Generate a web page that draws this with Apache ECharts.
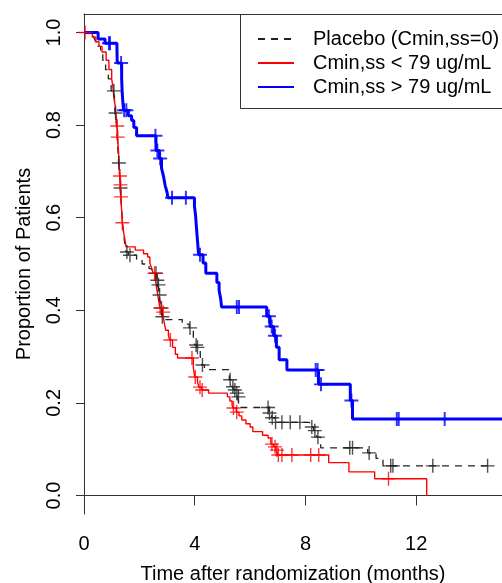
<!DOCTYPE html>
<html>
<head>
<meta charset="utf-8">
<script src="https://cdn.jsdelivr.net/npm/echarts@6/dist/echarts.min.js"></script>
<style>
  html, body { margin: 0; padding: 0; background: #fff; }
  #chart { width: 502px; height: 583px; }
</style>
</head>
<body>
<div id="chart"></div>
<script>
// Kaplan-Meier steps [time (months), proportion]
var placeboSteps = [
    [0, 1], [0.35, 0.99], [0.42, 0.98], [0.5, 0.97], [0.6, 0.955], [0.68, 0.94], [0.78, 0.92],
    [0.88, 0.9], [0.98, 0.874], [1.1, 0.85], [1.12, 0.826], [1.17, 0.8], [1.2, 0.77], [1.23, 0.74],
    [1.25, 0.718], [1.29, 0.69], [1.31, 0.664], [1.35, 0.63], [1.38, 0.6], [1.42, 0.57], [1.47, 0.545],
    [1.52, 0.526], [1.6, 0.519], [1.9, 0.51], [2.1, 0.5], [2.35, 0.49], [2.45, 0.48], [2.63, 0.465],
    [2.68, 0.455], [2.72, 0.433], [2.78, 0.405], [2.82, 0.386], [2.9, 0.38], [3.55, 0.37], [3.8, 0.362],
    [3.95, 0.34], [4.0, 0.325], [4.08, 0.32], [4.2, 0.3], [4.25, 0.282], [4.35, 0.272], [5.25, 0.25],
    [5.35, 0.235], [5.42, 0.228], [5.5, 0.221], [5.55, 0.213], [5.62, 0.19], [6.68, 0.178], [6.78, 0.168],
    [6.88, 0.158], [8.15, 0.148], [8.3, 0.14], [8.4, 0.126], [8.55, 0.103], [10.25, 0.092], [10.55, 0.08],
    [10.8, 0.064], [14.58, 0.064]
];
var placeboCensored = [1.08, 1.14, 1.26, 1.32, 1.55, 1.66, 2.6, 2.65, 2.69, 2.73, 2.8, 2.83, 3.83, 4.05,
    4.1, 4.28, 5.28, 5.38, 5.45, 5.52, 5.58, 6.65, 6.7, 6.8, 6.92, 7.15, 7.45, 7.8, 8.23, 8.34, 8.45,
    9.6, 9.7, 10.3, 11.08, 11.16, 12.6, 14.58];

var lowSteps = [
    [0, 1], [0.3, 0.99], [0.43, 0.98], [0.54, 0.97], [0.65, 0.958], [0.8, 0.94], [0.9, 0.92], [1.0, 0.9],
    [1.05, 0.88], [1.08, 0.86], [1.12, 0.845], [1.15, 0.826], [1.19, 0.798], [1.21, 0.774], [1.23, 0.757],
    [1.25, 0.74], [1.27, 0.71], [1.29, 0.69], [1.31, 0.671], [1.33, 0.645], [1.35, 0.625], [1.37, 0.605],
    [1.38, 0.589], [1.41, 0.578], [1.44, 0.565], [1.48, 0.552], [1.52, 0.537], [1.85, 0.53], [2.15, 0.522],
    [2.3, 0.515], [2.38, 0.502], [2.45, 0.49], [2.5, 0.48], [2.58, 0.465], [2.62, 0.45], [2.66, 0.435],
    [2.7, 0.42], [2.74, 0.405], [2.83, 0.396], [2.88, 0.38], [2.95, 0.357], [3.05, 0.345], [3.1, 0.336],
    [3.2, 0.32], [3.3, 0.305], [3.38, 0.297], [3.95, 0.275], [4.0, 0.256], [4.1, 0.245], [4.15, 0.234],
    [4.25, 0.228], [4.5, 0.221], [5.18, 0.213], [5.27, 0.204], [5.35, 0.195], [5.38, 0.189], [5.5, 0.18],
    [5.6, 0.172], [5.7, 0.163], [5.85, 0.155], [6.0, 0.148], [6.1, 0.138], [6.45, 0.13], [6.65, 0.124],
    [6.75, 0.111], [6.85, 0.105], [6.93, 0.098], [7.0, 0.0875], [8.84, 0.071], [9.57, 0.051], [10.5, 0.036],
    [12.38, 0]
];
var lowCensored = [0.04, 1.2, 1.22, 1.3, 1.32, 1.34, 1.385, 2.55, 2.75, 2.86, 3.12, 3.9, 4.02, 4.19, 4.27,
    5.4, 5.52, 6.79, 6.9, 6.97, 7.02, 7.15, 7.51, 8.19, 8.48, 11.0];

var highSteps = [
    [0, 1], [0.51, 0.986], [0.76, 0.977], [1.19, 0.968], [1.2, 0.934], [1.36, 0.9], [1.38, 0.87],
    [1.41, 0.845], [1.43, 0.832], [1.6, 0.82], [1.72, 0.81], [1.8, 0.795], [1.9, 0.777], [2.6, 0.745],
    [2.72, 0.728], [2.8, 0.707], [2.87, 0.69], [2.93, 0.67], [3.0, 0.655], [3.03, 0.643], [3.99, 0.625],
    [4.03, 0.605], [4.06, 0.58], [4.1, 0.55], [4.14, 0.52], [4.3, 0.502], [4.4, 0.48], [4.8, 0.46],
    [4.88, 0.443], [4.94, 0.424], [4.97, 0.407], [6.6, 0.387], [6.72, 0.365], [6.85, 0.345], [6.95, 0.32],
    [7.05, 0.293], [7.33, 0.271], [8.47, 0.24], [9.62, 0.205], [9.7, 0.165], [15.5, 0.165]
];
var highCensored = [0.9, 0.94, 1.34, 1.45, 1.53, 2.58, 2.65, 2.75, 3.18, 3.68, 4.19, 5.52, 5.6, 6.68,
    6.78, 6.9, 8.37, 8.44, 8.56, 9.66, 11.3, 11.37, 13.03];

var seriesNames = ['Placebo (Cmin,ss=0)', 'Cmin,ss < 79 ug/mL', 'Cmin,ss > 79 ug/mL'];
var yTicks = [0, 0.2, 0.4, 0.6, 0.8, 1.0];

// level of the curve at a censoring time
function survAt(steps, t) {
    var s = steps[0][1];
    for (var i = 0; i < steps.length; i++) {
        if (steps[i][0] <= t) s = steps[i][1];
    }
    return s;
}
function marks(steps, times) {
    return times.map(function (t) { return [t, survAt(steps, t)]; });
}

var plusThin = 'path://M45,0 L55,0 L55,45 L100,45 L100,55 L55,55 L55,100 L45,100 L45,55 L0,55 L0,45 L45,45 Z';
var plusWide = 'path://M43,0 L57,0 L57,43 L100,43 L100,57 L57,57 L57,100 L43,100 L43,57 L0,57 L0,43 L43,43 Z';

var chart = echarts.init(document.getElementById('chart'));
var font = 'Liberation Sans, Arial, sans-serif';

chart.setOption({
    animation: false,
    textStyle: { fontFamily: font },
    grid: { left: 84, right: 0, top: 14, bottom: 69, outerBoundsMode: 'none', containLabel: false },
    legend: {
        data: seriesNames,
        orient: 'vertical',
        left: 257,
        top: 28,
        padding: 0,
        itemWidth: 36,
        itemHeight: 10,
        itemGap: 2,
        selectedMode: false,
        itemStyle: { opacity: 0 },
        textStyle: { fontSize: 20, color: '#000', lineHeight: 22, padding: [0, 0, 0, 14] }
    },
    graphic: [{
        type: 'rect',
        shape: { x: 240.5, y: 14.5, width: 300, height: 94 },
        style: { fill: 'none', stroke: '#333', lineWidth: 1 },
        z: 10
    }],
    xAxis: [{
        type: 'value',
        min: 0,
        max: 15.1,
        interval: 4,
        position: 'bottom',
        axisLine: { show: true, lineStyle: { color: '#333', width: 1 } },
        axisTick: { show: true, length: 10, lineStyle: { color: '#333' } },
        axisLabel: { fontSize: 20, color: '#000', margin: 20, showMaxLabel: false },
        splitLine: { show: false },
        name: 'Time after randomization (months)',
        nameLocation: 'middle',
        nameGap: 50,
        nameTextStyle: { fontSize: 20, color: '#000' }
    }, {
        type: 'value',
        min: 0,
        max: 15.1,
        position: 'top',
        axisLine: { show: true, onZero: false, lineStyle: { color: '#333', width: 1 } },
        axisTick: { show: false },
        axisLabel: { show: false },
        splitLine: { show: false }
    }],
    yAxis: {
        type: 'value',
        min: -0.04,
        max: 1.04,
        axisLine: { show: true, lineStyle: { color: '#333', width: 1 } },
        axisTick: { show: true, length: 8, customValues: yTicks, lineStyle: { color: '#333' } },
        axisLabel: {
            customValues: yTicks,
            rotate: 90,
            fontSize: 20,
            color: '#000',
            margin: 20,
            formatter: function (v) { return v.toFixed(1); }
        },
        splitLine: { show: false },
        name: 'Proportion of Patients',
        nameLocation: 'middle',
        nameRotate: 90,
        nameGap: 50,
        nameTextStyle: { fontSize: 20, color: '#000' }
    },
    series: [{
        name: seriesNames[0],
        type: 'line',
        step: 'end',
        symbol: 'none',
        data: placeboSteps,
        lineStyle: { color: '#222', width: 1.3, type: [7, 6] },
        itemStyle: { color: '#222' }
    }, {
        name: seriesNames[1],
        type: 'line',
        step: 'end',
        symbol: 'none',
        data: lowSteps,
        lineStyle: { color: '#ff0000', width: 1.4 },
        itemStyle: { color: '#ff0000' }
    }, {
        name: seriesNames[2],
        type: 'line',
        step: 'end',
        symbol: 'none',
        data: highSteps,
        lineStyle: { color: '#0000ff', width: 3 },
        itemStyle: { color: '#0000ff' }
    }, {
        type: 'scatter',
        symbol: plusThin,
        symbolSize: 14,
        data: marks(placeboSteps, placeboCensored),
        itemStyle: { color: '#222' },
        z: 3
    }, {
        type: 'scatter',
        symbol: plusThin,
        symbolSize: 14,
        data: marks(lowSteps, lowCensored),
        itemStyle: { color: '#ff0000' },
        z: 3
    }, {
        type: 'scatter',
        symbol: plusWide,
        symbolSize: 14,
        data: marks(highSteps, highCensored),
        itemStyle: { color: '#0000ff' },
        z: 4
    }]
});
</script>
</body>
</html>
